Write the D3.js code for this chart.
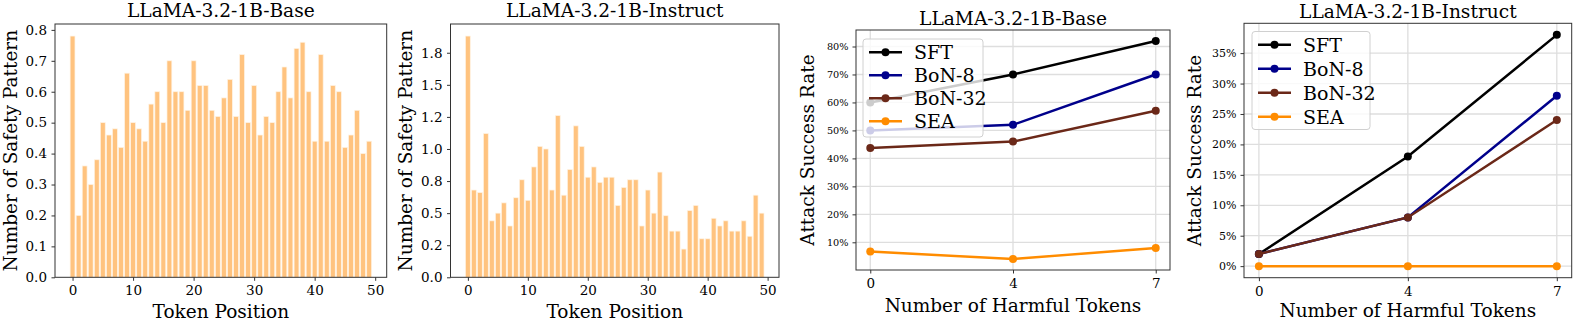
<!DOCTYPE html>
<html>
<head>
<meta charset="utf-8">
<script src="https://cdn.jsdelivr.net/npm/d3@7"></script>
<style>
 body { margin: 0; background: #fff; }
 text { font-family: "DejaVu Serif", serif; fill: #000; }
</style>
</head>
<body>
<div id="chart"></div>
<script>
// token positions 0..49
var tokens = d3.range(50);
var baseCounts = [0.78, 0.20, 0.36, 0.30, 0.38, 0.50, 0.46, 0.48, 0.42, 0.66,
  0.50, 0.48, 0.44, 0.56, 0.60, 0.50, 0.70, 0.60, 0.60, 0.54,
  0.70, 0.62, 0.62, 0.54, 0.52, 0.58, 0.64, 0.52, 0.72, 0.50,
  0.62, 0.46, 0.52, 0.50, 0.60, 0.68, 0.58, 0.74, 0.76, 0.60,
  0.44, 0.72, 0.44, 0.62, 0.60, 0.42, 0.46, 0.54, 0.40, 0.44];
var instructCounts = [1.88, 0.68, 0.66, 1.12, 0.44, 0.50, 0.58, 0.40, 0.62, 0.76,
  0.60, 0.86, 1.02, 1.00, 0.68, 1.26, 0.64, 0.84, 1.18, 1.02,
  0.78, 0.86, 0.74, 0.78, 0.78, 0.56, 0.70, 0.76, 0.76, 0.40,
  0.68, 0.50, 0.82, 0.48, 0.36, 0.36, 0.22, 0.52, 0.56, 0.30,
  0.30, 0.46, 0.40, 0.44, 0.36, 0.36, 0.44, 0.32, 0.64, 0.50];

var baseTicks = [0, 0.1, 0.2, 0.3, 0.4, 0.5, 0.6, 0.7, 0.8];
var baseTickLabels = ["0.0", "0.1", "0.2", "0.3", "0.4", "0.5", "0.6", "0.7", "0.8"];
var instructTicks = [0, 0.25, 0.5, 0.75, 1.0, 1.25, 1.5, 1.75];
var instructTickLabels = ["0.0", "0.2", "0.5", "0.8", "1.0", "1.2", "1.5", "1.8"];

var harmfulTokens = ["0", "4", "7"];
var methods = ["SFT", "BoN-8", "BoN-32", "SEA"];
var methodColors = ["#000000", "#00008b", "#6b2818", "#ff8c00"];
// attack success rate (%)
var asrBase = [[60, 70, 82], [50, 52, 70], [43.7, 46, 57], [6.7, 4, 8]];
var asrInstruct = [[2, 18, 38], [2, 8, 28], [2, 8, 24], [0, 0, 0]];

var W = 1577, H = 321;
var svg = d3.select("#chart").append("svg").attr("width", W).attr("height", H);

function frame(g, w, h) {
  g.append("rect").attr("x", 0).attr("y", 0).attr("width", w).attr("height", h)
    .attr("fill", "none").attr("stroke", "#333").attr("stroke-width", 1);
}

function styleAxis(a, fs) {
  a.select(".domain").remove();
  a.selectAll(".tick line").attr("stroke", "#333");
  a.selectAll(".tick text").style("font-family", "DejaVu Serif").style("font-size", fs + "px").attr("fill", "#000");
}

function barPanel(box, title, values, ymax, yticks, ylabels, ylabelX) {
  var w = box.r - box.l, h = box.b - box.t;
  var g = svg.append("g").attr("transform", "translate(" + box.l + "," + box.t + ")");
  var x = d3.scaleLinear().domain([-2.9, 51.9]).range([0, w]);
  var y = d3.scaleLinear().domain([0, ymax]).range([h, 0]);

  g.selectAll("rect.bar").data(values).enter().append("rect")
    .attr("class", "bar")
    .attr("x", function(d, i) { return x(tokens[i] - 0.4); })
    .attr("width", x(0.8) - x(0))
    .attr("y", function(d) { return y(d); })
    .attr("height", function(d) { return h - y(d); })
    .attr("fill", "#ffc37f")
    .attr("stroke", "#fff3e3").attr("stroke-width", 0.7);

  var xa = g.append("g").attr("transform", "translate(0," + h + ")")
    .call(d3.axisBottom(x).tickValues([0, 10, 20, 30, 40, 50]).tickSize(3.5).tickPadding(5));
  styleAxis(xa, 13.5);
  var ya = g.append("g").call(d3.axisLeft(y).tickValues(yticks)
    .tickFormat(function(d, i) { return ylabels[i]; }).tickSize(3.5).tickPadding(4.5));
  styleAxis(ya, 13.5);
  frame(g, w, h);

  g.append("text").attr("x", w / 2).attr("y", -6.7).attr("text-anchor", "middle")
    .style("font-size", "18.6px").text(title);
  g.append("text").attr("x", w / 2).attr("y", h + 40.5).attr("text-anchor", "middle")
    .style("font-size", "18.5px").text("Token Position");
  g.append("text").attr("transform", "translate(" + (ylabelX - box.l) + "," + (h / 2) + ") rotate(-90)")
    .attr("text-anchor", "middle").attr("dy", "0.35em")
    .style("font-size", "18.5px").text("Number of Safety Pattern");
}

function linePanel(box, title, series, ydom, yticks, tickFs, ylabelX, legendBox) {
  var w = box.r - box.l, h = box.b - box.t;
  var g = svg.append("g").attr("transform", "translate(" + box.l + "," + box.t + ")");
  var x = d3.scaleLinear().domain([-0.1, 2.1]).range([0, w]);
  var y = d3.scaleLinear().domain(ydom).range([h, 0]);

  // grid
  g.selectAll("line.gy").data(yticks).enter().append("line")
    .attr("x1", 0).attr("x2", w)
    .attr("y1", function(d) { return y(d); }).attr("y2", function(d) { return y(d); })
    .attr("stroke", "#dedede").attr("stroke-width", 1.3);
  g.selectAll("line.gx").data([0, 1, 2]).enter().append("line")
    .attr("y1", 0).attr("y2", h)
    .attr("x1", function(d) { return x(d); }).attr("x2", function(d) { return x(d); })
    .attr("stroke", "#dedede").attr("stroke-width", 1.3);

  var line = d3.line().x(function(d, i) { return x(i); }).y(function(d) { return y(d); });
  series.forEach(function(s, k) {
    g.append("path").datum(s).attr("d", line).attr("fill", "none")
      .attr("stroke", methodColors[k]).attr("stroke-width", 2.5);
    g.selectAll("circle.m" + k).data(s).enter().append("circle")
      .attr("cx", function(d, i) { return x(i); }).attr("cy", function(d) { return y(d); })
      .attr("r", 4).attr("fill", methodColors[k]);
  });

  var xa = g.append("g").attr("transform", "translate(0," + h + ")")
    .call(d3.axisBottom(x).tickValues([0, 1, 2]).tickFormat(function(d) { return harmfulTokens[d]; })
      .tickSize(3.5).tickPadding(5));
  styleAxis(xa, 13.5);
  var ya = g.append("g").call(d3.axisLeft(y).tickValues(yticks)
    .tickFormat(function(d) { return d + "%"; }).tickSize(3.5).tickPadding(4));
  styleAxis(ya, tickFs);
  frame(g, w, h);

  // legend
  var lg = svg.append("g").attr("transform", "translate(" + legendBox.l + "," + legendBox.t + ")");
  lg.append("rect").attr("width", legendBox.w).attr("height", legendBox.h).attr("rx", 3)
    .attr("fill", "#fff").attr("fill-opacity", 0.8).attr("stroke", "#d0d0d0");
  methods.forEach(function(m, k) {
    var yy = legendBox.row0 + k * legendBox.step;
    lg.append("line").attr("x1", 6).attr("x2", 39).attr("y1", yy).attr("y2", yy)
      .attr("stroke", methodColors[k]).attr("stroke-width", 2.5);
    lg.append("circle").attr("cx", 22.5).attr("cy", yy).attr("r", 4).attr("fill", methodColors[k]);
    lg.append("text").attr("x", 51).attr("y", yy).attr("dy", "0.36em")
      .style("font-size", "19px").text(m);
  });

  g.append("text").attr("x", w / 2).attr("y", -5.2).attr("text-anchor", "middle")
    .style("font-size", "18.6px").text(title);
  g.append("text").attr("x", w / 2).attr("y", h + legendBox.xlab).attr("text-anchor", "middle")
    .style("font-size", "18.5px").text("Number of Harmful Tokens");
  g.append("text").attr("transform", "translate(" + (ylabelX - box.l) + "," + (h / 2) + ") rotate(-90)")
    .attr("text-anchor", "middle").attr("dy", "0.35em")
    .style("font-size", "18.5px").text("Attack Success Rate");
}

barPanel({l: 55, t: 24, r: 386.7, b: 277.3}, "LLaMA-3.2-1B-Base", baseCounts, 0.819,
  baseTicks, baseTickLabels, 11);
barPanel({l: 450.5, t: 24, r: 779, b: 277.3}, "LLaMA-3.2-1B-Instruct", instructCounts, 1.974,
  instructTicks, instructTickLabels, 406);
linePanel({l: 856, t: 30, r: 1170, b: 270}, "LLaMA-3.2-1B-Base", asrBase, [0.1, 85.9],
  [10, 20, 30, 40, 50, 60, 70, 80], 9.7, 808,
  {l: 863, t: 39, w: 120, h: 98, row0: 13.3, step: 23, xlab: 42});
linePanel({l: 1244, t: 23.3, r: 1571.7, b: 277.7}, "LLaMA-3.2-1B-Instruct", asrInstruct, [-1.9, 39.9],
  [0, 5, 10, 15, 20, 25, 30, 35], 11, 1195,
  {l: 1252, t: 31.5, w: 118, h: 98, row0: 13.2, step: 24, xlab: 39.5});
</script>
</body>
</html>
